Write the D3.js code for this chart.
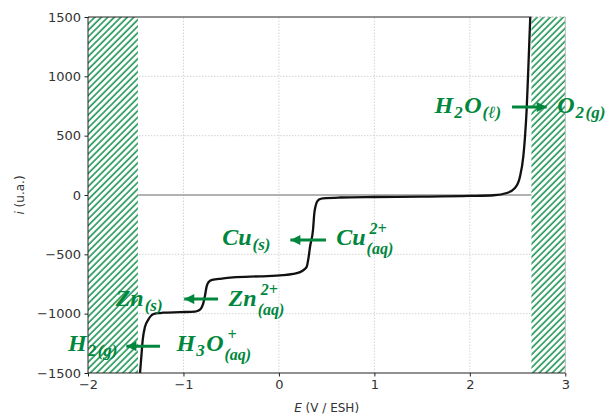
<!DOCTYPE html>
<html>
<head>
<meta charset="utf-8">
<script src="https://cdn.jsdelivr.net/npm/d3@7"></script>
<style>
  html, body { margin: 0; padding: 0; background: #fff; }
  svg { display: block; }
  .tick text { font-family: "DejaVu Sans", sans-serif; font-size: 13px; fill: #333; }
</style>
</head>
<body>
<svg id="chart" width="612" height="416"></svg>
<script>
// Current–potential curve (E in V vs. ESH, i in arbitrary units)
const potential = [-1.455, -1.44, -1.427, -1.403, -1.371, -1.319, -1.26, -1.214, -1.036, -0.879,
  -0.848, -0.815, -0.795, -0.775, -0.757, -0.738, -0.70, -0.60, -0.481, -0.198,
  0.043, 0.15, 0.221, 0.27, 0.291, 0.31, 0.326, 0.357, 0.371, 0.385,
  0.396, 0.42, 0.462, 0.64, 1.0, 1.478, 2.0, 2.25, 2.386, 2.473,
  2.525, 2.560, 2.578, 2.595, 2.612, 2.633];
const current = [-1500, -1350, -1223, -1111, -1054, -1005, -995, -992, -987, -982,
  -976, -955, -920, -850, -770, -735, -716, -704, -694, -685,
  -676, -665, -650, -625, -605, -530, -436, -295, -152, -90,
  -62, -38, -28, -21, -17, -14, -8, -2, 17, 59,
  154, 323, 492, 717, 1054, 1500];

// Axis ticks
const xTicks = [-2, -1, 0, 1, 2, 3];
const yTicks = [-1500, -1000, -500, 0, 500, 1000, 1500];

// Electroactivity limits (solvent wall) shaded with hatching
const hatchZones = [[-2, -1.477], [2.645, 3]];

// Half-reaction labels: pieces are [text, role, text below a superscript]
const labels = [
  { E: 1.63, i: 692, parts: [["H", "b"], ["2", "sub"], ["O", "b"], ["(ℓ)", "sub"]] },
  { E: 2.915, i: 692, parts: [["O", "b"], ["2", "sub"], ["(g)", "sub"]] },
  { E: -0.594, i: -422, parts: [["Cu", "b"], ["(s)", "sub"]] },
  { E: 0.60, i: -422, parts: [["Cu", "b"], ["2+", "sup", "(aq)"]] },
  { E: -1.71, i: -936, parts: [["Zn", "b"], ["(s)", "sub"]] },
  { E: -0.527, i: -936, parts: [["Zn", "b"], ["2+", "sup", "(aq)"]] },
  { E: -2.21, i: -1316, parts: [["H", "b"], ["2", "sub"], ["(g)", "sub"]] },
  { E: -1.073, i: -1316, parts: [["H", "b"], ["3", "sub"], ["O", "b"], ["+", "sup", "(aq)"]] }
];

// Reaction arrows (from -> to)
const arrows = [
  { E0: 2.442, E1: 2.805, i: 742 },
  { E0: 0.493, E1: 0.120, i: -380 },
  { E0: -0.638, E1: -0.992, i: -877 },
  { E0: -1.246, E1: -1.598, i: -1274 }
];

const green = "#00873d";
const W = 612, H = 416;
const margin = { left: 88, right: 46.7, top: 17, bottom: 43 };

const svg = d3.select("#chart");
const x = d3.scaleLinear().domain([-2, 3]).range([margin.left, W - margin.right]);
const y = d3.scaleLinear().domain([-1500, 1500]).range([H - margin.bottom, margin.top]);

const defs = svg.append("defs");
const pat = defs.append("pattern")
  .attr("id", "hatch")
  .attr("patternUnits", "userSpaceOnUse")
  .attr("width", 4.6).attr("height", 10)
  .attr("patternTransform", "rotate(45)");
pat.append("rect").attr("width", 4.6).attr("height", 10).attr("fill", "#fff");
pat.append("line").attr("x1", 1).attr("x2", 1).attr("y1", 0).attr("y2", 10)
  .attr("stroke", green).attr("stroke-width", 1.4);

defs.append("marker")
  .attr("id", "head")
  .attr("viewBox", "0 0 10 10")
  .attr("refX", 10).attr("refY", 5)
  .attr("markerUnits", "userSpaceOnUse")
  .attr("markerWidth", 11).attr("markerHeight", 10)
  .attr("orient", "auto")
  .append("path").attr("d", "M0,0 L10,5 L0,10 Z").attr("fill", green);

// Grid
const grid = svg.append("g");
grid.selectAll("line.gx").data(xTicks.slice(1, -1)).join("line")
  .attr("x1", d => x(d)).attr("x2", d => x(d))
  .attr("y1", y(-1500)).attr("y2", y(1500))
  .attr("stroke", "#cfcfcf").attr("stroke-width", 0.9).attr("stroke-dasharray", "1.5,1.5");
grid.selectAll("line.gy").data(yTicks.slice(1, -1).filter(d => d !== 0)).join("line")
  .attr("x1", x(-2)).attr("x2", x(3))
  .attr("y1", d => y(d)).attr("y2", d => y(d))
  .attr("stroke", "#cfcfcf").attr("stroke-width", 0.9).attr("stroke-dasharray", "1.5,1.5");

// Zero current line
svg.append("line")
  .attr("x1", x(-2)).attr("x2", x(3)).attr("y1", y(0)).attr("y2", y(0))
  .attr("stroke", "#999").attr("stroke-width", 1.3);

// Hatched zones
svg.selectAll("rect.zone").data(hatchZones).join("rect")
  .attr("x", d => x(d[0])).attr("width", d => x(d[1]) - x(d[0]))
  .attr("y", y(1500)).attr("height", y(-1500) - y(1500))
  .attr("fill", "url(#hatch)");

// Curve
const pts = potential.map((e, k) => [e, current[k]]);
svg.append("path")
  .datum(pts)
  .attr("fill", "none")
  .attr("stroke", "#111")
  .attr("stroke-width", 2.3)
  .attr("d", d3.line().x(d => x(d[0])).y(d => y(d[1])).curve(d3.curveMonotoneX));

// Spines
svg.append("line").attr("x1", x(-2)).attr("x2", x(-2)).attr("y1", y(1500)).attr("y2", y(-1500))
  .attr("stroke", "#222").attr("stroke-width", 1);
svg.append("line").attr("x1", x(-2)).attr("x2", x(3)).attr("y1", y(-1500)).attr("y2", y(-1500))
  .attr("stroke", "#222").attr("stroke-width", 1);
svg.append("line").attr("x1", x(-2)).attr("x2", x(hatchZones[1][0])).attr("y1", y(1500)).attr("y2", y(1500))
  .attr("stroke", "#222").attr("stroke-width", 1);
svg.append("line").attr("x1", x(hatchZones[1][0])).attr("x2", x(3)).attr("y1", y(1500)).attr("y2", y(1500))
  .attr("stroke", "#aaa").attr("stroke-width", 1).attr("stroke-dasharray", "2,2");
svg.append("line").attr("x1", x(3)).attr("x2", x(3)).attr("y1", y(1500)).attr("y2", y(-1500))
  .attr("stroke", "#bbb").attr("stroke-width", 1);

// Axes
const fmt = d3.format("d");
const ax = svg.append("g").attr("transform", `translate(0,${y(-1500)})`)
  .call(d3.axisBottom(x).tickValues(xTicks).tickFormat(fmt).tickSize(3.5).tickPadding(3.5));
const ay = svg.append("g").attr("transform", `translate(${x(-2)},0)`)
  .call(d3.axisLeft(y).tickValues(yTicks).tickFormat(fmt).tickSize(3.5).tickPadding(3.5));
[ax, ay].forEach(g => {
  g.select(".domain").remove();
  g.selectAll(".tick line").attr("stroke", "#222");
});

// Axis titles
const xt = svg.append("text")
  .attr("x", (x(-2) + x(3)) / 2).attr("y", 412)
  .attr("text-anchor", "middle")
  .attr("font-family", "DejaVu Sans, sans-serif").attr("font-size", 12).attr("fill", "#333");
xt.append("tspan").attr("font-style", "italic").text("E");
xt.append("tspan").text(" (V / ESH)");

const yt = svg.append("text")
  .attr("transform", `translate(24,${y(0)}) rotate(-90)`)
  .attr("text-anchor", "middle")
  .attr("font-family", "DejaVu Sans, sans-serif").attr("font-size", 12).attr("fill", "#333");
yt.append("tspan").attr("font-style", "italic").text("i");
yt.append("tspan").text(" (u.a.)");

// Arrows
svg.selectAll("line.arrow").data(arrows).join("line")
  .attr("x1", d => x(d.E0)).attr("x2", d => x(d.E1))
  .attr("y1", d => y(d.i)).attr("y2", d => y(d.i))
  .attr("stroke", green).attr("stroke-width", 3)
  .attr("marker-end", "url(#head)");

// Chemical species labels
const font = "Liberation Serif, serif";
const bigSize = 24, smallSize = 17, stackSize = 16;
function piece(g, t, px, py, size) {
  return g.append("text").attr("x", px).attr("y", py)
    .attr("font-family", font).attr("font-size", size)
    .attr("font-weight", "bold").attr("font-style", "italic")
    .attr("fill", green).text(t);
}
labels.forEach(lb => {
  const g = svg.append("g");
  let cx = x(lb.E);
  const base = y(lb.i);
  lb.parts.forEach(p => {
    const [t, role, below] = p;
    if (role === "b") {
      cx += piece(g, t, cx, base, bigSize).node().getComputedTextLength() + 1;
    } else if (role === "sub") {
      cx += piece(g, t, cx, base + 5, smallSize).node().getComputedTextLength() + 1.5;
    } else if (role === "sup") {
      let w = piece(g, t, cx + 3, base - 11, stackSize).node().getComputedTextLength() + 3;
      if (below) {
        w = Math.max(w, piece(g, below, cx, base + 9, stackSize).node().getComputedTextLength() + 2);
      }
      cx += w + 1;
    }
  });
});
</script>
</body>
</html>
